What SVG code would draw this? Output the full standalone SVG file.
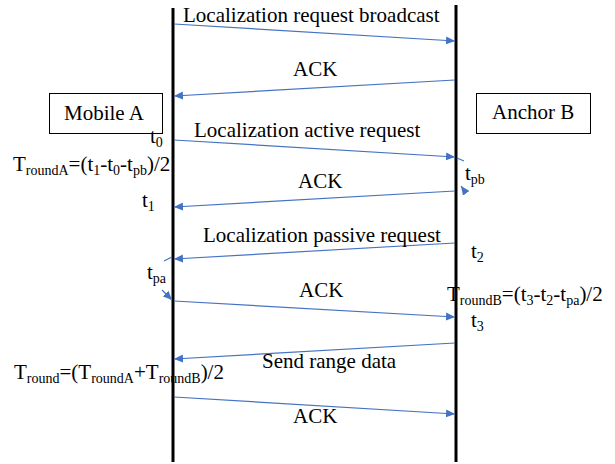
<svg xmlns="http://www.w3.org/2000/svg" width="615" height="464" viewBox="0 0 615 464">
<defs>
<style>
.msg{stroke:#4472C4;stroke-width:1.2;fill:none}
.life{stroke:#000;stroke-width:3}
.box{fill:#fff;stroke:#000;stroke-width:1}
</style>
<marker id="ah" markerUnits="userSpaceOnUse" markerWidth="10" markerHeight="8" refX="9" refY="4" orient="auto">
<path d="M0,0 L9,4 L0,8 Z" fill="#4472C4"/>
</marker>
</defs>
<g font-family="Liberation Serif, Times New Roman, DejaVu Serif, serif" font-size="21" fill="#000">
<g id="lifelines">
<line class="life" x1="173" y1="8" x2="173" y2="462"/>
<line class="life" x1="456" y1="5" x2="456" y2="462"/>
</g>
<g id="mobileA"><rect class="box" x="49.5" y="93.5" width="113" height="40"/><text x="64" y="120">Mobile A</text></g>
<g id="anchorB"><rect class="box" x="476.5" y="93.5" width="114" height="40"/><text x="492" y="119">Anchor B</text></g>
<g id="connectors">
<line class="msg" x1="174" y1="24" x2="455" y2="41" marker-end="url(#ah)"/>
<line class="msg" x1="455" y1="80" x2="174" y2="96" marker-end="url(#ah)"/>
<line class="msg" x1="174" y1="140" x2="455" y2="157" marker-end="url(#ah)"/>
<line class="msg" x1="455" y1="191" x2="174" y2="207" marker-end="url(#ah)"/>
<line class="msg" x1="455" y1="243" x2="174" y2="259" marker-end="url(#ah)"/>
<line class="msg" x1="174" y1="301" x2="455" y2="317" marker-end="url(#ah)"/>
<line class="msg" x1="455" y1="343" x2="174" y2="359" marker-end="url(#ah)"/>
<line class="msg" x1="174" y1="397" x2="455" y2="414" marker-end="url(#ah)"/>
<line class="msg" x1="457" y1="158" x2="464" y2="161"/>
<line class="msg" x1="466" y1="193" x2="461" y2="186" marker-end="url(#ah)"/>
<line class="msg" x1="164" y1="261" x2="172" y2="257"/>
<line class="msg" x1="162" y1="290" x2="172" y2="300" marker-end="url(#ah)"/>
</g>
<g id="labels">
<text x="183" y="22">Localization request broadcast</text>
<text x="293" y="76">ACK</text>
<text x="194" y="137">Localization active request</text>
<text x="298" y="188">ACK</text>
<text x="203" y="242">Localization passive request</text>
<text x="299" y="297">ACK</text>
<text x="262" y="368">Send range data</text>
<text x="293" y="423">ACK</text>
<text x="150" y="143">t<tspan font-size="14" dy="4">0</tspan></text>
<text x="13" y="171">T<tspan font-size="14" dy="4">roundA</tspan><tspan dy="-4">=(t</tspan><tspan font-size="14" dy="4">1</tspan><tspan dy="-4">-t</tspan><tspan font-size="14" dy="4">0</tspan><tspan dy="-4">-t</tspan><tspan font-size="14" dy="4">pb</tspan><tspan dy="-4">)/2</tspan></text>
<text x="142" y="207">t<tspan font-size="14" dy="4">1</tspan></text>
<text x="465" y="180">t<tspan font-size="14" dy="4">pb</tspan></text>
<text x="471" y="258">t<tspan font-size="14" dy="4">2</tspan></text>
<text x="147" y="279">t<tspan font-size="14" dy="4">pa</tspan></text>
<text x="447" y="301">T<tspan font-size="14" dy="4">roundB</tspan><tspan dy="-4">=(t</tspan><tspan font-size="14" dy="4">3</tspan><tspan dy="-4">-t</tspan><tspan font-size="14" dy="4">2</tspan><tspan dy="-4">-t</tspan><tspan font-size="14" dy="4">pa</tspan><tspan dy="-4">)/2</tspan></text>
<text x="471" y="327">t<tspan font-size="14" dy="4">3</tspan></text>
<text x="14" y="379">T<tspan font-size="14" dy="4">round</tspan><tspan dy="-4">=(T</tspan><tspan font-size="14" dy="4">roundA</tspan><tspan dy="-4">+T</tspan><tspan font-size="14" dy="4">roundB</tspan><tspan dy="-4">)/2</tspan></text>
</g>
</g>
</svg>
